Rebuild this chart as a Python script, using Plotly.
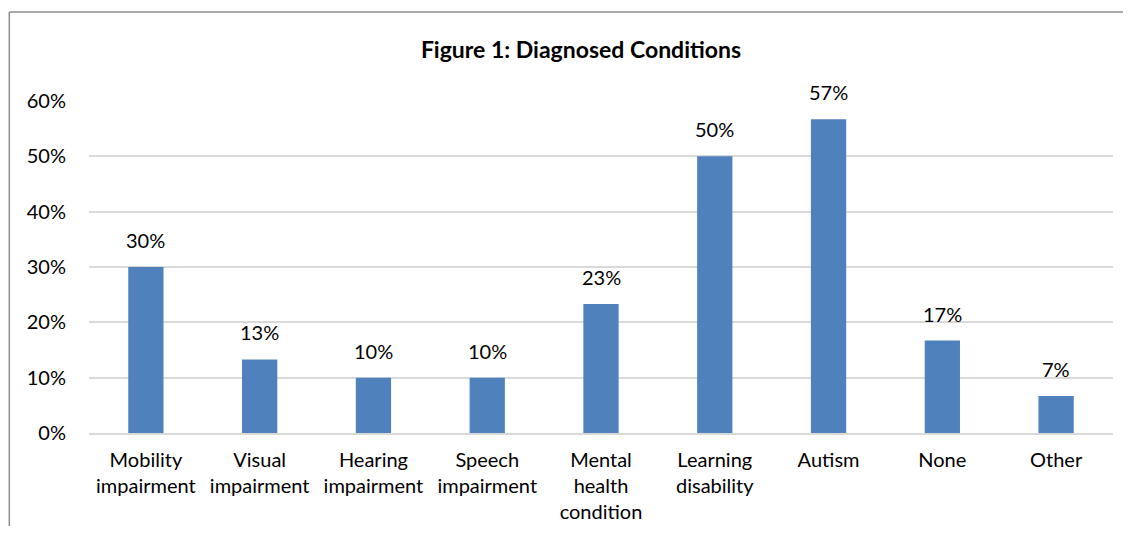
import plotly.graph_objects as go

# Данные диаграммы
categories = ["Mobility<br>impairment", "Visual<br>impairment", "Hearing<br>impairment",
              "Speech<br>impairment", "Mental<br>health<br>condition", "Learning<br>disability",
              "Autism", "None", "Other"]
shares = [0.30, 0.133, 0.10, 0.10, 0.233, 0.50, 0.567, 0.167, 0.067]
labels = ["30%", "13%", "10%", "10%", "23%", "50%", "57%", "17%", "7%"]
y_ticks = [0, 0.1, 0.2, 0.3, 0.4, 0.5, 0.6]
y_tick_labels = ["0%", "10%", "20%", "30%", "40%", "50%", "60%"]

FONT = "Lato"

fig = go.Figure(go.Bar(
    x=categories,
    y=shares,
    marker=dict(color="#4f81bd", line=dict(width=0)),
    hoverinfo="skip",
))

# Подписи значений над столбцами
for cat, val, lab in zip(categories, shares, labels):
    fig.add_annotation(x=cat, y=val, text=lab, showarrow=False,
                       yanchor="bottom", yshift=13,
                       font=dict(family=FONT, size=20, color="#000000"))

# Рамка области диаграммы (видны только верх и левый край)
border = dict(color="#8c8c8c", width=1.5)
fig.add_shape(type="line", xref="paper", yref="paper",
              x0=-0.0778, x1=1.05, y0=1.268, y1=1.268, line=border, layer="below")
fig.add_shape(type="line", xref="paper", yref="paper",
              x0=-0.0778, x1=-0.0778, y0=-0.35, y1=1.268, line=border, layer="below")

# Страница сдвигает фигуру на 8 px, поэтому размеры чуть меньше окна
fig.update_layout(
    width=1115, height=518,
    margin=dict(l=81, r=10, t=93, b=93),
    paper_bgcolor="white", plot_bgcolor="white",
    bargap=0.69,
    showlegend=False,
    title=dict(text="<b>Figure 1: Diagnosed Conditions</b>",
               x=(581 - 8) / 1115, xref="container", xanchor="center",
               y=1 - 42 / 518, yref="container", yanchor="middle",
               font=dict(family=FONT, size=23, color="#000000")),
    font=dict(family=FONT, size=20, color="#000000"),
)

fig.update_xaxes(showgrid=False, showline=True, linecolor="#d9d9d9", linewidth=1.5,
                 ticks="", ticklabelstandoff=8, automargin=False,
                 tickfont=dict(family=FONT, size=20, color="#000000"))
fig.update_yaxes(range=[0, 0.6], tickvals=y_ticks, ticktext=y_tick_labels,
                 showgrid=True, gridcolor="#d9d9d9", gridwidth=1.5, automargin=False,
                 zeroline=False, showline=False, ticks="", ticklabelstandoff=22,
                 tickfont=dict(family=FONT, size=20, color="#000000"))

fig.write_html("out.html")
